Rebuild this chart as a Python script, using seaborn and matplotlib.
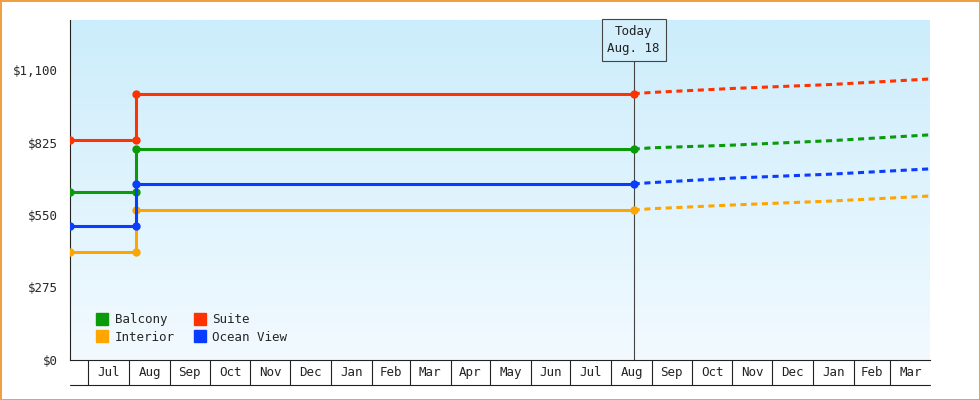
import matplotlib
matplotlib.use("Agg")
import matplotlib.pyplot as plt
import matplotlib.dates as mdates
import seaborn as sns
import numpy as np
import pandas as pd
from matplotlib.lines import Line2D

sns.set_style("white")
plt.rcParams['font.family'] = ['DejaVu Sans Mono', 'DejaVu Sans']

# --- data ---
cabins = ["Balcony", "Suite", "Interior", "Ocean View"]
colors = {"Balcony": "#0a9a0a", "Suite": "#ff3300", "Interior": "#ffa500", "Ocean View": "#0a3cff"}
hist_dates = pd.to_datetime(["2023-06-17", "2023-08-06", "2023-08-06", "2024-08-18"])
hist_prices = {
    "Balcony":    [637, 637, 800, 800],
    "Suite":      [835, 835, 1010, 1010],
    "Interior":   [410, 410, 569, 569],
    "Ocean View": [508, 508, 668, 668],
}
proj_dates = pd.to_datetime(["2024-08-18", "2024-09-01", "2024-11-01", "2025-01-15", "2025-03-31"])
proj_prices = {
    "Balcony":    [800, 805, 815, 832, 854],
    "Suite":      [1010, 1015, 1030, 1045, 1066],
    "Interior":   [569, 574, 588, 603, 622],
    "Ocean View": [668, 673, 690, 705, 725],
}
today = pd.Timestamp("2024-08-18")
month_starts = pd.date_range("2023-07-01", "2025-04-01", freq="MS")
y_ticks = [0, 275, 550, 825, 1100]

fig = plt.figure(figsize=(9.8, 4), dpi=100)
fig.patch.set_edgecolor("#f0a040")
fig.patch.set_linewidth(2)
ax = fig.add_axes([70 / 980, 40 / 400, 860 / 980, 340 / 400])

x0 = mdates.date2num(pd.Timestamp("2023-06-17"))
x1 = mdates.date2num(pd.Timestamp("2025-03-31"))
ymax = 1100 * 340 / 290
px = ymax / 340  # data units per pixel
ax.set_xlim(x0, x1)
ax.set_ylim(0, ymax)

# gradient background
grad = np.linspace(0, 1, 256).reshape(-1, 1)
cmap = matplotlib.colors.LinearSegmentedColormap.from_list("bg", ["#f2faff", "#ccedfb"])
ax.imshow(grad, extent=[x0, x1, 0, ymax], origin="lower", aspect="auto", cmap=cmap, zorder=0)

for c in cabins:
    sns.lineplot(x=hist_dates, y=hist_prices[c], ax=ax, color=colors[c], lw=2.2,
                 marker="o", markersize=6, markeredgewidth=0, sort=False, estimator=None, zorder=3)
    sns.lineplot(x=proj_dates, y=proj_prices[c], ax=ax, color=colors[c], lw=2.2,
                 linestyle=(0, (2, 1.5)), estimator=None, zorder=3)

# today marker
ax.axvline(today, ymin=0, ymax=300 / 340, color="#444444", lw=0.8, zorder=2)
ax.text(today, ymax - 20 * px, "Today\nAug. 18", ha="center", va="center", fontsize=9, color="#222222",
        linespacing=1.4,
        bbox=dict(boxstyle="square,pad=0.45", fc="#d2effb", ec="#444444", lw=0.8), zorder=4)

# axes styling
for s in ["top", "right"]:
    ax.spines[s].set_visible(False)
ax.spines["left"].set_color("#222222")
ax.spines["bottom"].set_color("#222222")
ax.set_yticks(y_ticks)
ax.set_yticklabels([f"${v:,}" for v in y_ticks], fontsize=9)
ax.tick_params(axis="y", length=6, color="#222222", direction="out", pad=3)
ax.set_xticks([])
ax.set_xlabel("")
ax.set_ylabel("")

# month cells below the axis
trans = ax.get_xaxis_transform()
cell_h = 25 / 340
ax.plot([x0, x1], [-cell_h, -cell_h], transform=trans, color="#222222", lw=0.8, clip_on=False)
for ms in month_starts:
    xm = mdates.date2num(ms)
    if xm <= x1:
        ax.plot([xm, xm], [0, -cell_h], transform=trans, color="#222222", lw=0.8, clip_on=False)
for a, b in zip(month_starts[:-1], month_starts[1:]):
    mid = (mdates.date2num(a) + mdates.date2num(b)) / 2
    ax.text(mid, -cell_h / 2, a.strftime("%b"), transform=trans, ha="center", va="center",
            fontsize=9, color="#222222")

# legend filled column-wise: Balcony/Interior, Suite/Ocean View
leg_order = ["Balcony", "Interior", "Suite", "Ocean View"]
handles = [Line2D([], [], marker="s", ls="", color=colors[c], markersize=8) for c in leg_order]
ax.legend(handles, leg_order, loc="lower left", ncol=2, frameon=False, fontsize=9,
          handletextpad=0.0, columnspacing=1.0, labelspacing=0.35, bbox_to_anchor=(0.01, 0.015))

fig.savefig("out.png", dpi=100)
